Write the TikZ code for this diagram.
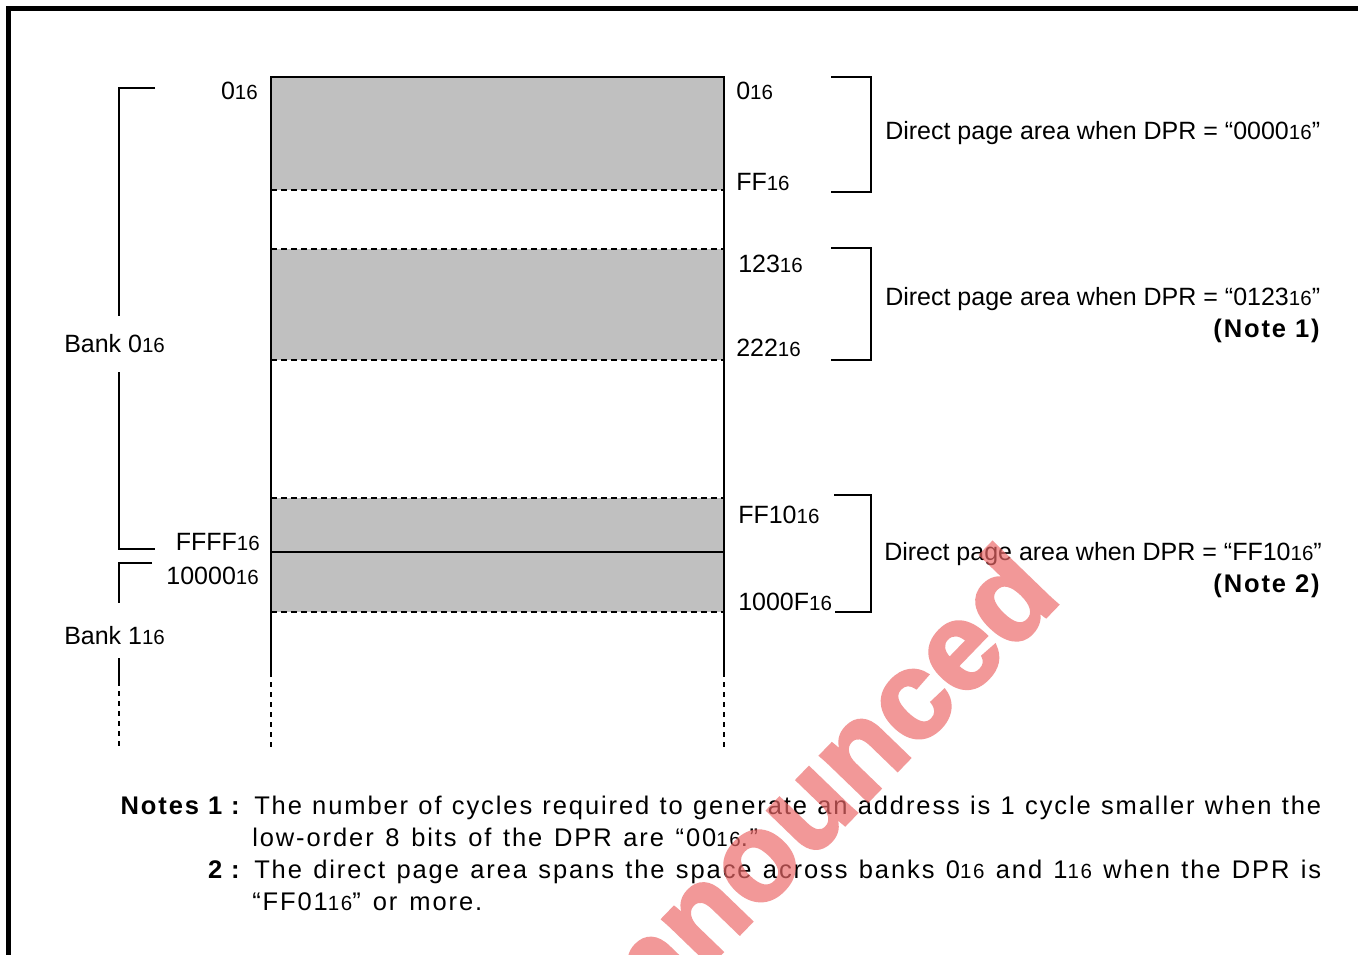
\documentclass[tikz,border=0pt]{standalone}
\usepackage{fontspec}
\setmainfont{Liberation Sans}
\newfontfamily\spacedfont[LetterSpace=7.5]{Liberation Sans}
\newfontfamily\stampfont[FakeBold=2.5]{Liberation Sans Bold}
\newcommand\hexsub{{\fontsize{20.5}{24}\selectfont 16}}
\definecolor{areagray}{RGB}{192,192,192}
\definecolor{markpink}{RGB}{236,104,104}
\begin{document}
\begin{tikzpicture}[x=1pt,y=-1pt,line width=2.5pt,
  lbl/.style={inner sep=0pt,font=\fontsize{25}{30}\selectfont},
  notetxt/.style={inner sep=0pt,font=\spacedfont\fontsize{25.5}{30}\selectfont},
  notebold/.style={inner sep=0pt,font=\spacedfont\bfseries\fontsize{25.5}{30}\selectfont},
  dashline/.style={line width=2pt,dash pattern=on 6pt off 4pt},
  dotline/.style={line width=2.5pt,dash pattern=on 5pt off 5pt},
  watermark/.style={inner sep=0pt,text=markpink,
    font=\stampfont\fontsize{124}{124}\selectfont}]
\useasboundingbox (0,0) rectangle (1358,954);
\fill[white] (0,0) rectangle (1358,954);

% outer frame (runs off the right and bottom edges)
\draw[line width=5pt] (8.5,1000) -- (8.5,8.5) -- (1400,8.5);

% memory map: shaded direct page areas
\fill[areagray] (271,77) rectangle (724,190);
\fill[areagray] (271,249) rectangle (724,360);
\fill[areagray] (271,498) rectangle (724,612);
\draw (271,677) -- (271,77) -- (724,77) -- (724,677);
\draw[dotline] (271,682) -- (271,747);
\draw[dotline] (724,682) -- (724,747);
\foreach \yy in {190,249,360,498,612}
  \draw[dashline] (271,\yy) -- (724,\yy);
\draw (271,552) -- (724,552);

% addresses on the left
\node[lbl,anchor=base east] (a0l) at (259,99) {0\hexsub};
\node[lbl,anchor=base east] (affff) at (261,550) {FFFF\hexsub};
\node[lbl,anchor=base east] (a10000) at (260,584) {10000\hexsub};

% addresses on the right
\node[lbl,anchor=base west] (a0r) at (735,99) {0\hexsub};
\node[lbl,anchor=base west] (aff) at (735,190) {FF\hexsub};
\node[lbl,anchor=base west] (a123) at (737,272) {123\hexsub};
\node[lbl,anchor=base west] (a222) at (735,356) {222\hexsub};
\node[lbl,anchor=base west] (aff10) at (737,523) {FF10\hexsub};
\node[lbl,anchor=base west] (a1000f) at (737,610) {1000F\hexsub};

% brackets for the direct page areas
\draw (831,77) -- (871,77) -- (871,192) -- (831,192);
\draw (831,248) -- (871,248) -- (871,360) -- (831,360);
\draw (834,495) -- (871,495) -- (871,612) -- (835,612);

\node[lbl,anchor=base west] (dp1) at (884,139) {Direct page area when DPR = “0000\hexsub”};
\node[lbl,anchor=base west] (dp2) at (884,305) {Direct page area when DPR = “0123\hexsub”};
\node[notebold,anchor=base east] (nt1) at (1321,337) {(Note 1)};
\node[lbl,anchor=base west] (dp3) at (883,560) {Direct page area when DPR = “FF10\hexsub”};
\node[notebold,anchor=base east] (nt2) at (1321,592) {(Note 2)};

% bank brackets
\draw (155,88) -- (119,88) -- (119,316);
\draw (119,372) -- (119,549) -- (155,549);
\node[lbl,anchor=base west] (bank0) at (63,352) {Bank 0\hexsub};
\draw (152,563) -- (119,563) -- (119,603);
\node[lbl,anchor=base west] (bank1) at (63,644) {Bank 1\hexsub};
\draw (119,658) -- (119,686);
\draw[dotline] (119,691) -- (119,747);

% notes
\node[notebold,anchor=base east] (nlab1) at (241,814) {Notes 1 :};
\node[notetxt,anchor=base west] (nl1) at (253,814)
  {\makebox[1067pt][s]{The number of cycles required to generate an address is 1 cycle smaller when the}};
\node[notetxt,anchor=base west] (nl2) at (251,846)
  {\makebox[506pt][s]{low-order 8 bits of the DPR are “00\hexsub.”}};
\node[notebold,anchor=base east] (nlab2) at (241,878) {2 :};
\node[notetxt,anchor=base west] (nl3) at (253,878)
  {\makebox[1067pt][s]{The direct page area spans the space across banks 0\hexsub{} and 1\hexsub{} when the DPR is}};
\node[notetxt,anchor=base west] (nl4) at (251,910)
  {\makebox[230pt][s]{“FF01\hexsub” or more.}};

% stamp across the page
\begin{scope}[transparency group,opacity=0.68]
\node[watermark,rotate=46,anchor=base east] (stamp) at (1064,598) {announced};
\end{scope}
\end{tikzpicture}
\end{document}
